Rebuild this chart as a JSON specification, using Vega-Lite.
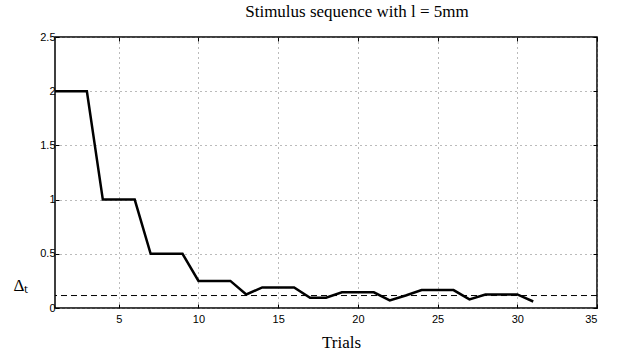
{
  "$schema": "https://vega.github.io/schema/vega-lite/v6.json",
  "autosize": "none",
  "padding": {"left": 55, "top": 37, "right": 30, "bottom": 55},
  "width": 542,
  "height": 271,
  "title": {"text": "Stimulus sequence with l = 5mm", "font": "Liberation Serif", "fontSize": 17, "fontWeight": "normal", "anchor": "middle", "dx": 31, "offset": 10, "color": "black"},
  "config": {
    "view": {"stroke": "black", "strokeWidth": 1.5},
    "axis": {"labelFont": "Liberation Sans", "labelFontSize": 11, "labelColor": "black", "domain": false, "tickColor": "black", "tickWidth": 1, "gridColor": "#777", "gridDash": [1, 4], "gridWidth": 1, "gridOpacity": 1, "titleFont": "Liberation Serif", "titleFontWeight": "normal", "titleColor": "black", "titleFontSize": 17}
  },
  "resolve": {"axis": {"x": "independent", "y": "independent"}},
  "datasets": {
    "seq": [
      {"trial": 1, "delta": 2}, {"trial": 2, "delta": 2}, {"trial": 3, "delta": 2},
      {"trial": 4, "delta": 1}, {"trial": 5, "delta": 1}, {"trial": 6, "delta": 1},
      {"trial": 7, "delta": 0.5}, {"trial": 8, "delta": 0.5}, {"trial": 9, "delta": 0.5},
      {"trial": 10, "delta": 0.25}, {"trial": 11, "delta": 0.25}, {"trial": 12, "delta": 0.25},
      {"trial": 13, "delta": 0.125}, {"trial": 14, "delta": 0.19}, {"trial": 15, "delta": 0.19},
      {"trial": 16, "delta": 0.19}, {"trial": 17, "delta": 0.095}, {"trial": 18, "delta": 0.095},
      {"trial": 19, "delta": 0.145}, {"trial": 20, "delta": 0.145}, {"trial": 21, "delta": 0.145},
      {"trial": 22, "delta": 0.07}, {"trial": 23, "delta": 0.115}, {"trial": 24, "delta": 0.165},
      {"trial": 25, "delta": 0.165}, {"trial": 26, "delta": 0.165}, {"trial": 27, "delta": 0.08},
      {"trial": 28, "delta": 0.125}, {"trial": 29, "delta": 0.125}, {"trial": 30, "delta": 0.125},
      {"trial": 31, "delta": 0.06}
    ],
    "thr": [{"t": 0.115}]
  },
  "layer": [
    {
      "data": {"name": "thr"},
      "mark": {"type": "rule", "color": "black", "strokeWidth": 1, "strokeDash": [6, 4]},
      "encoding": {
        "y": {"field": "t", "type": "quantitative", "scale": {"domain": [0, 2.5], "nice": false},
              "axis": {"orient": "right", "values": [0, 0.5, 1, 1.5, 2, 2.5], "labels": false, "title": null, "tickSize": -4, "grid": false}}
      }
    },
    {
      "data": {"name": "seq"},
      "mark": {"type": "line", "color": "black", "strokeWidth": 2.5, "strokeJoin": "miter"},
      "encoding": {
        "x": {"field": "trial", "type": "quantitative", "scale": {"domain": [1, 35], "nice": false, "zero": false},
              "axis": {"values": [5, 10, 15, 20, 25, 30, 35], "grid": true, "title": "Trials", "tickSize": -4, "labelPadding": 9, "titlePadding": 10, "titleX": 286}},
        "y": {"field": "delta", "type": "quantitative", "scale": {"domain": [0, 2.5], "nice": false},
              "axis": {"values": [0, 0.5, 1, 1.5, 2, 2.5], "grid": true, "format": "~g", "title": "Δₜ", "titleAngle": 0, "titleAlign": "left", "titleBaseline": "middle", "titleX": -42, "titleY": 248, "tickSize": -4, "labelPadding": 4}}
      }
    },
    {
      "data": {"name": "thr"},
      "mark": {"type": "point", "opacity": 0},
      "encoding": {
        "x": {"datum": 35, "type": "quantitative", "scale": {"domain": [1, 35], "nice": false, "zero": false},
              "axis": {"orient": "top", "values": [5, 10, 15, 20, 25, 30, 35], "labels": false, "title": null, "tickSize": -4, "grid": false}}
      }
    }
  ]
}
